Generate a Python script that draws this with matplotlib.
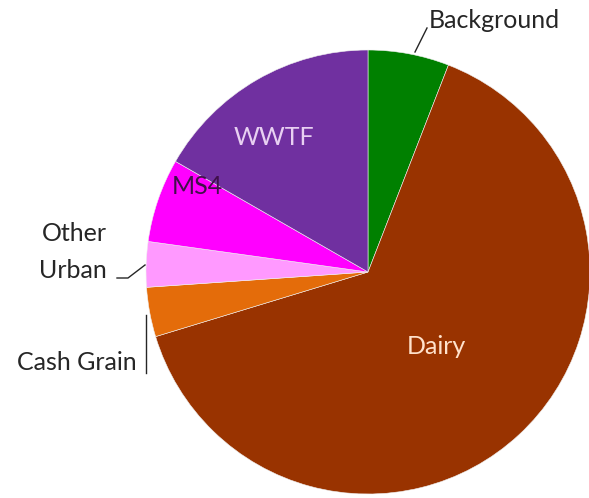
import matplotlib.pyplot as plt
import numpy as np

labels = ['Background', 'Dairy', 'Cash Grain', 'Other Urban', 'MS4', 'WWTF']
shares = [5.9, 64.4, 3.6, 3.3, 6.1, 16.7]
colors = ['#008000', '#993300', '#E46C0A', '#FF99FF', '#FF00FF', '#7030A0']

W, H = 589, 498
cx, cy, R = 368, H - 272, 222

plt.rcParams['font.family'] = ['Lato', 'DejaVu Sans']

fig = plt.figure(figsize=(W / 100, H / 100), dpi=100)
ax = fig.add_axes([0, 0, 1, 1])
ax.pie(shares, colors=colors, startangle=90, counterclock=False,
       center=(cx, cy), radius=R,
       wedgeprops=dict(linewidth=0.4, edgecolor='#f0f0f0'))
ax.set_xlim(0, W)
ax.set_ylim(0, H)
ax.set_aspect('equal')
ax.axis('off')

fs = 18
tc = '#262626'
# labels inside the slices
ax.text(274, H - 137, 'WWTF', color='#E8D0F2', fontsize=fs, ha='center', va='center')
ax.text(197, H - 186, 'MS4', color='#40104A', fontsize=fs, ha='center', va='center')
ax.text(436, H - 346, 'Dairy', color='#FFE2CC', fontsize=fs, ha='center', va='center')

# outside labels with leader lines
ax.text(494, H - 20, 'Background', color=tc, fontsize=fs, ha='center', va='center')
ax.plot([415, 427], [H - 52, H - 28], color=tc, lw=1)

ax.text(74, H - 233, 'Other', color=tc, fontsize=fs, ha='center', va='center')
ax.text(73, H - 270, 'Urban', color=tc, fontsize=fs, ha='center', va='center')
ax.plot([117, 128, 145], [H - 278, H - 278, H - 265], color=tc, lw=1)

ax.text(77, H - 362, 'Cash Grain', color=tc, fontsize=fs, ha='center', va='center')
ax.plot([146, 146], [H - 315, H - 373], color=tc, lw=1)

fig.savefig('out.png', dpi=100)
